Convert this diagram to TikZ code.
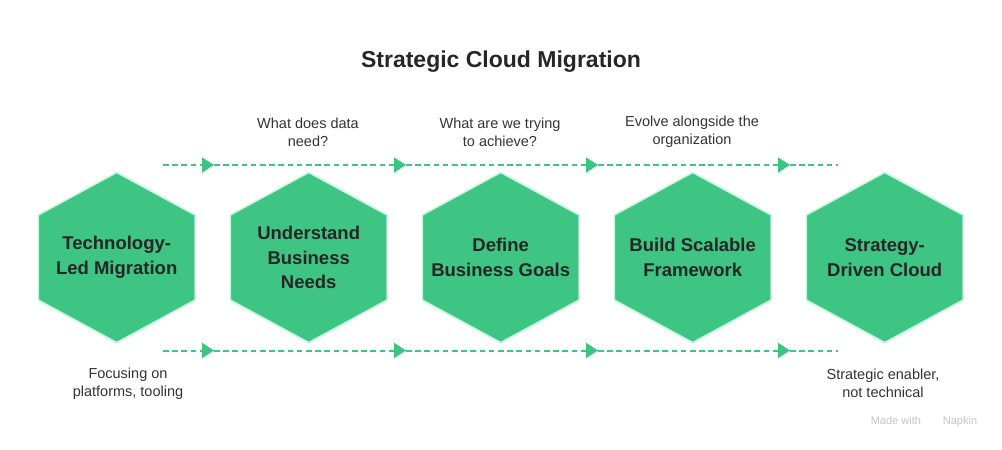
\documentclass[tikz,border=0pt]{standalone}
\usepackage{fontspec}
\setmainfont{Liberation Sans}
\usepackage{tikz}
\usetikzlibrary{arrows.meta,positioning,backgrounds,calc}
\definecolor{hexcolor}{RGB}{62,196,131}
\definecolor{hexborder}{RGB}{192,247,222}
\definecolor{textcolor}{RGB}{38,38,38}
\definecolor{notecolor}{RGB}{51,51,51}
\definecolor{napkincolor}{RGB}{196,196,196}

\begin{document}
\begin{tikzpicture}[
        x=1pt, y=-1pt,
        stage/.style={align=center, font=\fontsize{18.5}{24.5}\selectfont\bfseries, text=textcolor},
        hexa/.style={fill=hexcolor, draw=hexborder, line width=1.5pt, line join=round},
        note/.style={align=center, font=\fontsize{14.5}{18}\selectfont, text=notecolor},
        flow/.style={hexcolor, line width=2pt, dash pattern=on 5.5pt off 3.7pt},
        tip/.style={-{Triangle[length=12pt,width=15pt]}}
    ]
        \useasboundingbox (0,0) rectangle (1002,450);

        \node[font=\fontsize{23}{27}\selectfont\bfseries, text=textcolor] (title) at (501,62) {Strategic Cloud Migration};

        % stages
        \node[stage] (s1) at (116.7,257.5) {Technology-\\Led Migration};
        \node[stage] (s2) at (308.7,257.5) {Understand\\Business\\Needs};
        \node[stage] (s3) at (500.7,257.5) {Define\\Business Goals};
        \node[stage] (s4) at (692.7,257.5) {Build Scalable\\Framework};
        \node[stage] (s5) at (884.7,257.5) {Strategy-\\Driven Cloud};

        \begin{scope}[on background layer]
            \foreach \i in {1,...,5}
                \draw[hexa] ($(s\i.center)+(0,-85)$) -- ++(78.3,42.5) -- ++(0,85) -- ++(-78.3,42.5)
                    -- ++(-78.3,-42.5) -- ++(0,-85) -- cycle;
        \end{scope}

        % dashed flows
        \coordinate (ta) at (163,165);
        \coordinate (tz) at (838,165);
        \coordinate (ba) at (163,350.5);
        \coordinate (bz) at (838,350.5);
        \foreach \i/\x in {1/214,2/406,3/598,4/790} {
            \coordinate (t\i) at (\x,165);
            \coordinate (b\i) at (\x,350.5);
        }
        \foreach \a/\b in {ta/t1,t1/t2,t2/t3,t3/t4,ba/b1,b1/b2,b2/b3,b3/b4}
            \draw[flow, tip] (\a) -- (\b);
        \draw[flow] (t4) -- (tz);
        \draw[flow] (b4) -- (bz);

        % notes
        \node[note] (q2) at (308,132) {What does data\\need?};
        \node[note] (q3) at (500,132) {What are we trying\\to achieve?};
        \node[note] (q4) at (692,132) {Evolve alongside the\\organization};
        \node[note] (n1) at (128,383.5) {Focusing on\\platforms, tooling};
        \node[note] (n5) at (883,383.5) {Strategic enabler,\\not technical};

        \node[font=\fontsize{11}{13}\selectfont, text=napkincolor] (made) at (924,422) {Made with\hspace{22pt}Napkin};
    \end{tikzpicture}
\end{document}
